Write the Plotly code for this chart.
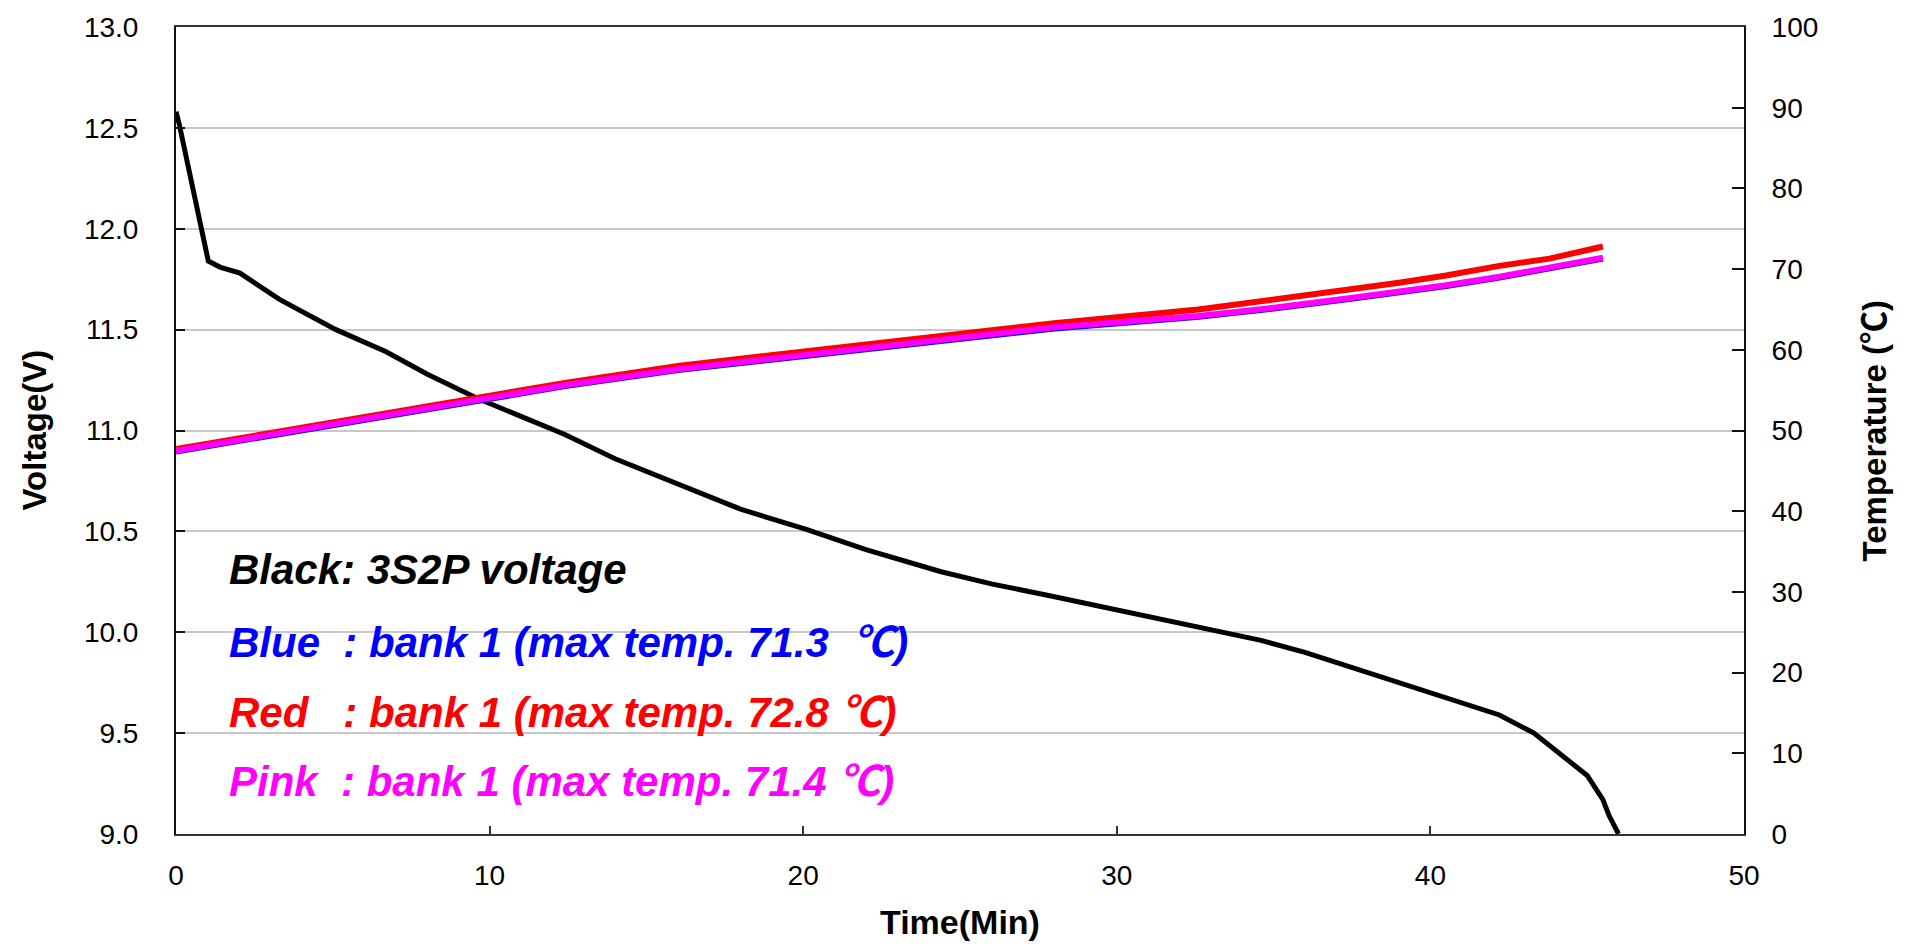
import plotly.graph_objects as go

# ---- data ----
time_v = [0, 0.1, 1.03, 1.4, 2.04, 3.3, 5.1, 6.7, 8.0, 9.6, 11.0, 12.4, 14.0, 16.1, 18.0,
          20.1, 22.0, 24.4, 26.0, 27.9, 30.0, 32.2, 34.6, 36.0, 38.0, 40.0, 40.7, 42.2,
          43.3, 44.2, 45.0, 45.5, 45.7, 46.0]
voltage = [12.58, 12.52, 11.84, 11.81, 11.78, 11.65, 11.50, 11.39, 11.28, 11.16, 11.07,
           10.98, 10.86, 10.73, 10.61, 10.51, 10.41, 10.30, 10.24, 10.18, 10.11, 10.04,
           9.96, 9.90, 9.80, 9.70, 9.66, 9.59, 9.50, 9.39, 9.29, 9.17, 9.09, 9.00]

time_t = [0, 3, 6.2, 9.6, 12.4, 16, 20.2, 24, 28, 32.6, 35, 37.4, 39, 40.5, 42.2, 43.8, 45.5]
temp_blue = [47.4, 49.4, 51.5, 53.7, 55.5, 57.5, 59.3, 61.0, 62.65, 64.1, 65.1, 66.3, 67.1,
             67.9, 68.95, 70.0, 71.3]
temp_red = [47.7, 49.7, 51.8, 54.0, 55.9, 58.0, 59.9, 61.6, 63.3, 65.0, 66.2, 67.5, 68.3,
            69.2, 70.4, 71.3, 72.8]
temp_pink = [47.5, 49.5, 51.6, 53.8, 55.6, 57.6, 59.4, 61.1, 62.8, 64.2, 65.2, 66.4, 67.2,
             68.0, 69.05, 70.1, 71.4]

x_ticks = [0, 10, 20, 30, 40, 50]
v_ticks = [9.0, 9.5, 10.0, 10.5, 11.0, 11.5, 12.0, 12.5, 13.0]
t_ticks = list(range(0, 101, 10))

DEG = '<span style="font-family:\'Noto Sans CJK KR\'">\u2103</span>'
NB = "\u00a0"
legend_texts = [
    "Black: 3S2P voltage",
    "Blue" + NB * 2 + ": bank 1 (max temp. 71.3" + NB * 2 + DEG + ")",
    "Red" + NB * 3 + ": bank 1 (max temp. 72.8 " + DEG + ")",
    "Pink" + NB * 2 + ": bank 1 (max temp. 71.4 " + DEG + ")",
]
legend_colors = ["#000000", "#0000FF", "#FF0000", "#FF00FF"]

FONT = "Liberation Sans, Arial, sans-serif"

fig = go.Figure()
fig.add_trace(go.Scatter(x=time_t, y=temp_blue, mode="lines", yaxis="y2",
                         line=dict(color="#0000FF", width=6), showlegend=False))
fig.add_trace(go.Scatter(x=time_t, y=temp_red, mode="lines", yaxis="y2",
                         line=dict(color="#FF0000", width=6), showlegend=False))
fig.add_trace(go.Scatter(x=time_t, y=temp_pink, mode="lines", yaxis="y2",
                         line=dict(color="#FF00FF", width=6), showlegend=False))
fig.add_trace(go.Scatter(x=time_v, y=voltage, mode="lines",
                         line=dict(color="#000000", width=5), showlegend=False))

annotations = []
ys = [0.328, 0.242, 0.156, 0.070]
for txt, col, yp in zip(legend_texts, legend_colors, ys):
    annotations.append(dict(text="<b><i>%s</i></b>" % txt, x=0.0325, y=yp, xref="paper",
                            yref="paper", xanchor="left", yanchor="middle", showarrow=False,
                            font=dict(family=FONT, size=42, color=col)))

annotations += [
    dict(text="<b>Voltage(V)</b>", x=0, y=0.5, xref="paper", yref="paper", xshift=-142,
         textangle=-90, showarrow=False, xanchor="center", yanchor="middle",
         font=dict(family=FONT, size=33, color="#000")),
    dict(text="<b>Temperature (" + DEG + ")</b>", x=1, y=0.5, xref="paper", yref="paper",
         xshift=127, textangle=-90, showarrow=False, xanchor="center", yanchor="middle",
         font=dict(family=FONT, size=33, color="#000")),
    dict(text="<b>Time(Min)</b>", x=0.5, y=0, xref="paper", yref="paper", yshift=-88,
         showarrow=False, xanchor="center", yanchor="middle",
         font=dict(family=FONT, size=34, color="#000")),
]

fig.update_layout(
    width=1908, height=944,
    margin=dict(l=176, r=164, t=22, b=110),
    paper_bgcolor="white", plot_bgcolor="white",
    font=dict(family=FONT, size=28, color="#000"),
    xaxis=dict(range=[0, 50], tickvals=x_ticks, ticks="inside", ticklen=8, tickwidth=2,
               tickcolor="#333", showline=True, linecolor="#333", linewidth=2, mirror=True,
               showgrid=False, zeroline=False, ticklabelstandoff=15,
               tickfont=dict(family=FONT, size=28, color="#000")),
    yaxis=dict(range=[9, 13], tickvals=v_ticks, tickformat=".1f", ticks="inside",
               ticklen=9, tickwidth=2, tickcolor="#111", showline=True, linecolor="#111",
               linewidth=2, showgrid=True, gridcolor="#c8c8c8", gridwidth=1.5,
               zeroline=False, ticklabelstandoff=30,
               tickfont=dict(family=FONT, size=28, color="#000")),
    yaxis2=dict(range=[0, 100], tickvals=t_ticks, overlaying="y", side="right",
                ticks="inside", ticklen=12, tickwidth=2, tickcolor="#111", showline=True,
                linecolor="#111", linewidth=2, showgrid=False, zeroline=False,
                ticklabelstandoff=20,
                tickfont=dict(family=FONT, size=28, color="#000")),
    annotations=annotations,
)

fig.write_html("out.html")
